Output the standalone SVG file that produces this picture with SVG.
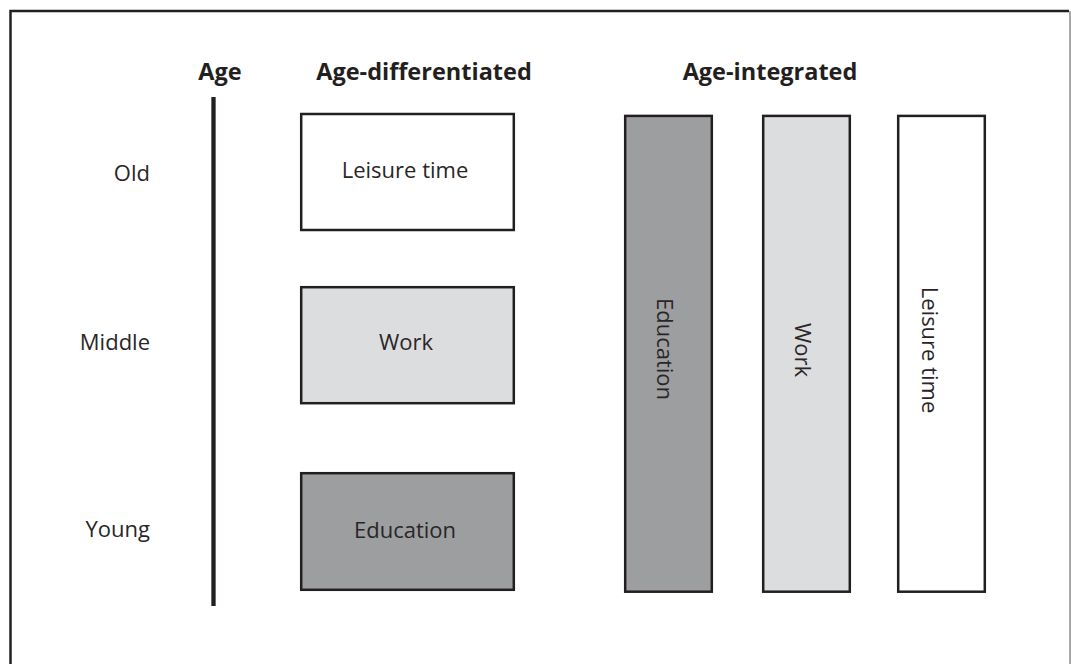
<svg xmlns="http://www.w3.org/2000/svg" width="1071" height="664" viewBox="0 0 1071 664">
<style>
.box{stroke:#231f20;stroke-width:2.5}
.dark{fill:#9d9ea0}
.light{fill:#dcdddf}
.white{fill:#ffffff}
.t{font-family:"Open Sans","Liberation Sans",sans-serif;font-size:22px;fill:#2a2627}
.h{font-family:"Open Sans","Liberation Sans",sans-serif;font-size:23.5px;font-weight:bold;fill:#231f20}
</style>
<rect x="0" y="0" width="1071" height="664" fill="#ffffff"/>
<g id="frame">
<path d="M10.5 664 V11 H1069" fill="none" stroke="#231f20" stroke-width="2.5"/>
<line x1="1070" y1="11" x2="1070" y2="664" stroke="#6d6e70" stroke-width="1.2"/>
</g>
<g id="headers">
<text class="h" x="220" y="80" text-anchor="middle">Age</text>
<text class="h" x="424" y="80" text-anchor="middle">Age-differentiated</text>
<text class="h" x="770" y="80" text-anchor="middle">Age-integrated</text>
</g>
<g id="age-axis">
<line x1="213.5" y1="97" x2="213.5" y2="606" stroke="#231f20" stroke-width="4.3"/>
<text class="t" x="150" y="181" text-anchor="end">Old</text>
<text class="t" x="150" y="350" text-anchor="end">Middle</text>
<text class="t" x="150" y="537" text-anchor="end">Young</text>
</g>
<g id="diff-leisure">
<rect class="box white" x="301.2" y="114" width="212.6" height="116"/>
<text class="t" x="405" y="178" text-anchor="middle">Leisure time</text>
</g>
<g id="diff-work">
<rect class="box light" x="301.2" y="287.2" width="212.6" height="116"/>
<text class="t" x="406" y="350" text-anchor="middle">Work</text>
</g>
<g id="diff-education">
<rect class="box dark" x="301.2" y="473.2" width="212.6" height="116.6"/>
<text class="t" x="405" y="538" text-anchor="middle">Education</text>
</g>
<g id="int-education">
<rect class="box dark" x="625.2" y="115.9" width="86.6" height="475.8"/>
<text class="t" transform="translate(657,349) rotate(90)" text-anchor="middle">Education</text>
</g>
<g id="int-work">
<rect class="box light" x="763.2" y="115.9" width="86.6" height="475.8"/>
<text class="t" transform="translate(795,350) rotate(90)" text-anchor="middle">Work</text>
</g>
<g id="int-leisure">
<rect class="box white" x="898.2" y="115.9" width="86.6" height="475.8"/>
<text class="t" transform="translate(922,350) rotate(90)" text-anchor="middle">Leisure time</text>
</g>
</svg>
